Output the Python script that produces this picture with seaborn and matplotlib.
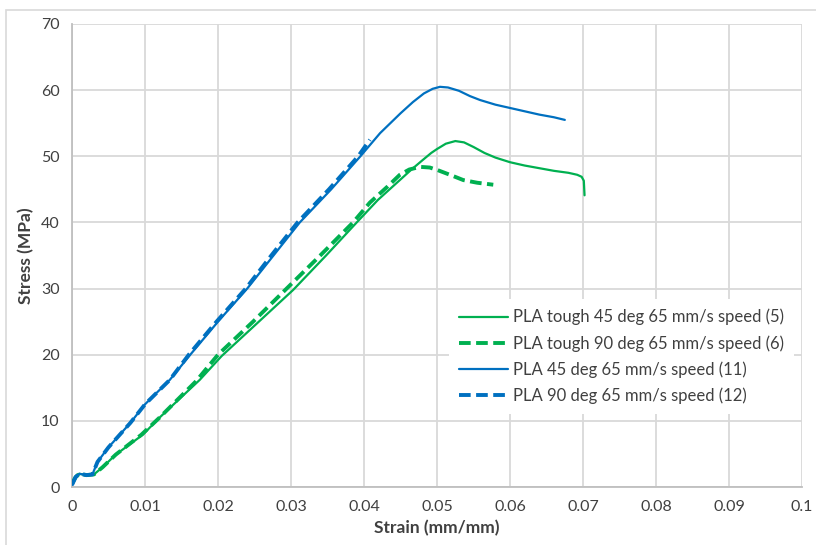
import numpy as np
import pandas as pd
import matplotlib
matplotlib.use("Agg")
import matplotlib.pyplot as plt
from matplotlib.lines import Line2D
from matplotlib.patches import Rectangle
import seaborn as sns

# Data
tough45_strain = [0.0, 0.0005, 0.001, 0.002, 0.003, 0.0042, 0.006, 0.0097, 0.012, 0.0175,
                  0.0205, 0.0254, 0.0303, 0.0348, 0.039, 0.0419, 0.0435, 0.045, 0.0465,
                  0.048, 0.0492, 0.050, 0.0512, 0.0525, 0.0537, 0.055, 0.0565, 0.058,
                  0.060, 0.062, 0.064, 0.066, 0.068, 0.0692, 0.0698, 0.0701, 0.0702]
tough45_stress = [0.5, 1.5, 2.0, 1.8, 1.9, 3.0, 4.9, 7.9, 10.5, 16.2,
                  19.8, 24.8, 29.8, 35.0, 40.0, 43.4, 45.0, 46.5, 48.0,
                  49.4, 50.5, 51.1, 51.9, 52.3, 52.1, 51.4, 50.5, 49.8,
                  49.1, 48.6, 48.2, 47.8, 47.5, 47.2, 46.9, 46.3, 44.1]

tough90_strain = [0.0, 0.0005, 0.001, 0.002, 0.003, 0.0042, 0.006, 0.0095, 0.012, 0.017,
                  0.020, 0.0248, 0.0294, 0.034, 0.0385, 0.0408, 0.0432, 0.0449, 0.0462,
                  0.0477, 0.049, 0.0501, 0.052, 0.0536, 0.0555, 0.0577]
tough90_stress = [0.5, 1.5, 2.0, 1.8, 1.9, 3.0, 4.9, 7.9, 10.5, 16.0,
                  20.0, 25.0, 30.0, 35.0, 40.0, 43.0, 45.4, 47.2, 48.0,
                  48.4, 48.3, 47.9, 47.1, 46.4, 46.0, 45.7]

pla45_strain = [0.0, 0.0005, 0.001, 0.002, 0.0028, 0.0035, 0.005, 0.008, 0.010, 0.0134,
                0.0162, 0.020, 0.024, 0.0276, 0.0312, 0.0355, 0.0395, 0.0422, 0.045,
                0.0467, 0.0482, 0.0494, 0.0504, 0.0515, 0.053, 0.0545, 0.0559, 0.058,
                0.060, 0.062, 0.064, 0.066, 0.0675]
pla45_stress = [0.3, 1.5, 2.0, 1.8, 1.9, 3.8, 6.0, 9.7, 12.5, 16.2,
                20.0, 25.0, 30.0, 35.0, 40.0, 45.0, 50.0, 53.5, 56.5,
                58.2, 59.5, 60.2, 60.5, 60.4, 59.9, 59.1, 58.5, 57.8,
                57.3, 56.8, 56.3, 55.9, 55.5]

pla90_strain = [0.0, 0.0005, 0.001, 0.002, 0.0028, 0.0035, 0.005, 0.008, 0.010, 0.0134,
                0.016, 0.0198, 0.0238, 0.0273, 0.0309, 0.0352, 0.0392, 0.0408]
pla90_stress = [0.3, 1.5, 2.0, 1.8, 1.9, 3.8, 6.0, 9.7, 12.5, 16.2,
                20.0, 25.0, 30.0, 35.0, 40.0, 45.0, 50.0, 52.5]

labels = ["PLA tough 45 deg 65 mm/s speed (5)",
          "PLA tough 90 deg 65 mm/s speed (6)",
          "PLA 45 deg 65 mm/s speed (11)",
          "PLA 90 deg 65 mm/s speed (12)"]

green = "#00B050"
blue = "#0070C0"
grid_col = "#D9D9D9"

sns.set_style("white")
plt.rcParams["font.family"] = ["Lato", "DejaVu Sans"]

fig, ax = plt.subplots(figsize=(8.16, 5.45), dpi=100)
fig.subplots_adjust(left=0.0882, right=0.983, top=0.956, bottom=0.1064)

series = [
    (tough45_strain, tough45_stress, green, "-", 1.6),
    (tough90_strain, tough90_stress, green, (0, (3, 1.4)), 2.8),
    (pla45_strain, pla45_stress, blue, "-", 1.6),
    (pla90_strain, pla90_stress, blue, (0, (3, 1.4)), 2.8),
]

handles = []
for (xs, ys, col, ls, lw), lab in zip(series, labels):
    df = pd.DataFrame({"strain": xs, "stress": ys})
    sns.lineplot(data=df, x="strain", y="stress", ax=ax, color=col,
                 linestyle=ls, linewidth=lw, sort=False, zorder=3)
    handles.append(Line2D([0], [0], color=col, linestyle=ls, linewidth=lw, label=lab))

ax.set_xlim(0, 0.1)
ax.set_ylim(0, 70)
ax.set_xticks(np.arange(0, 0.1001, 0.01))
ax.set_xticklabels(["0", "0.01", "0.02", "0.03", "0.04", "0.05", "0.06",
                    "0.07", "0.08", "0.09", "0.1"])
ax.set_yticks(np.arange(0, 71, 10))
ax.grid(True, color=grid_col, linewidth=1.3)
ax.set_axisbelow(True)
for side in ["top", "right"]:
    ax.spines[side].set_visible(False)
for side in ["left", "bottom"]:
    ax.spines[side].set_color("#BFBFBF")
    ax.spines[side].set_linewidth(1.3)
ax.tick_params(axis="both", length=0, labelsize=11.5, colors="#404040", pad=9)

ax.set_xlabel("Strain (mm/mm)", fontsize=12.5, fontweight="bold", color="#404040", labelpad=5)
ax.set_ylabel("Stress (MPa)", fontsize=12.5, fontweight="bold", color="#404040", labelpad=5)

leg = ax.legend(handles=handles, loc="upper left", bbox_to_anchor=(0.51, 0.417),
                frameon=True, fancybox=False, facecolor="white", edgecolor="none",
                framealpha=1, fontsize=12, handlelength=2.9, handletextpad=0.3,
                labelspacing=0.58, borderpad=0.6, borderaxespad=0.3)
for t in leg.get_texts():
    t.set_color("#404040")

fig.patches.append(Rectangle((6 / 816, -0.05), 1.1, 1.05 - 10 / 545, transform=fig.transFigure,
                             fill=False, edgecolor=grid_col, linewidth=1.2))

fig.savefig("out.png", dpi=100)
